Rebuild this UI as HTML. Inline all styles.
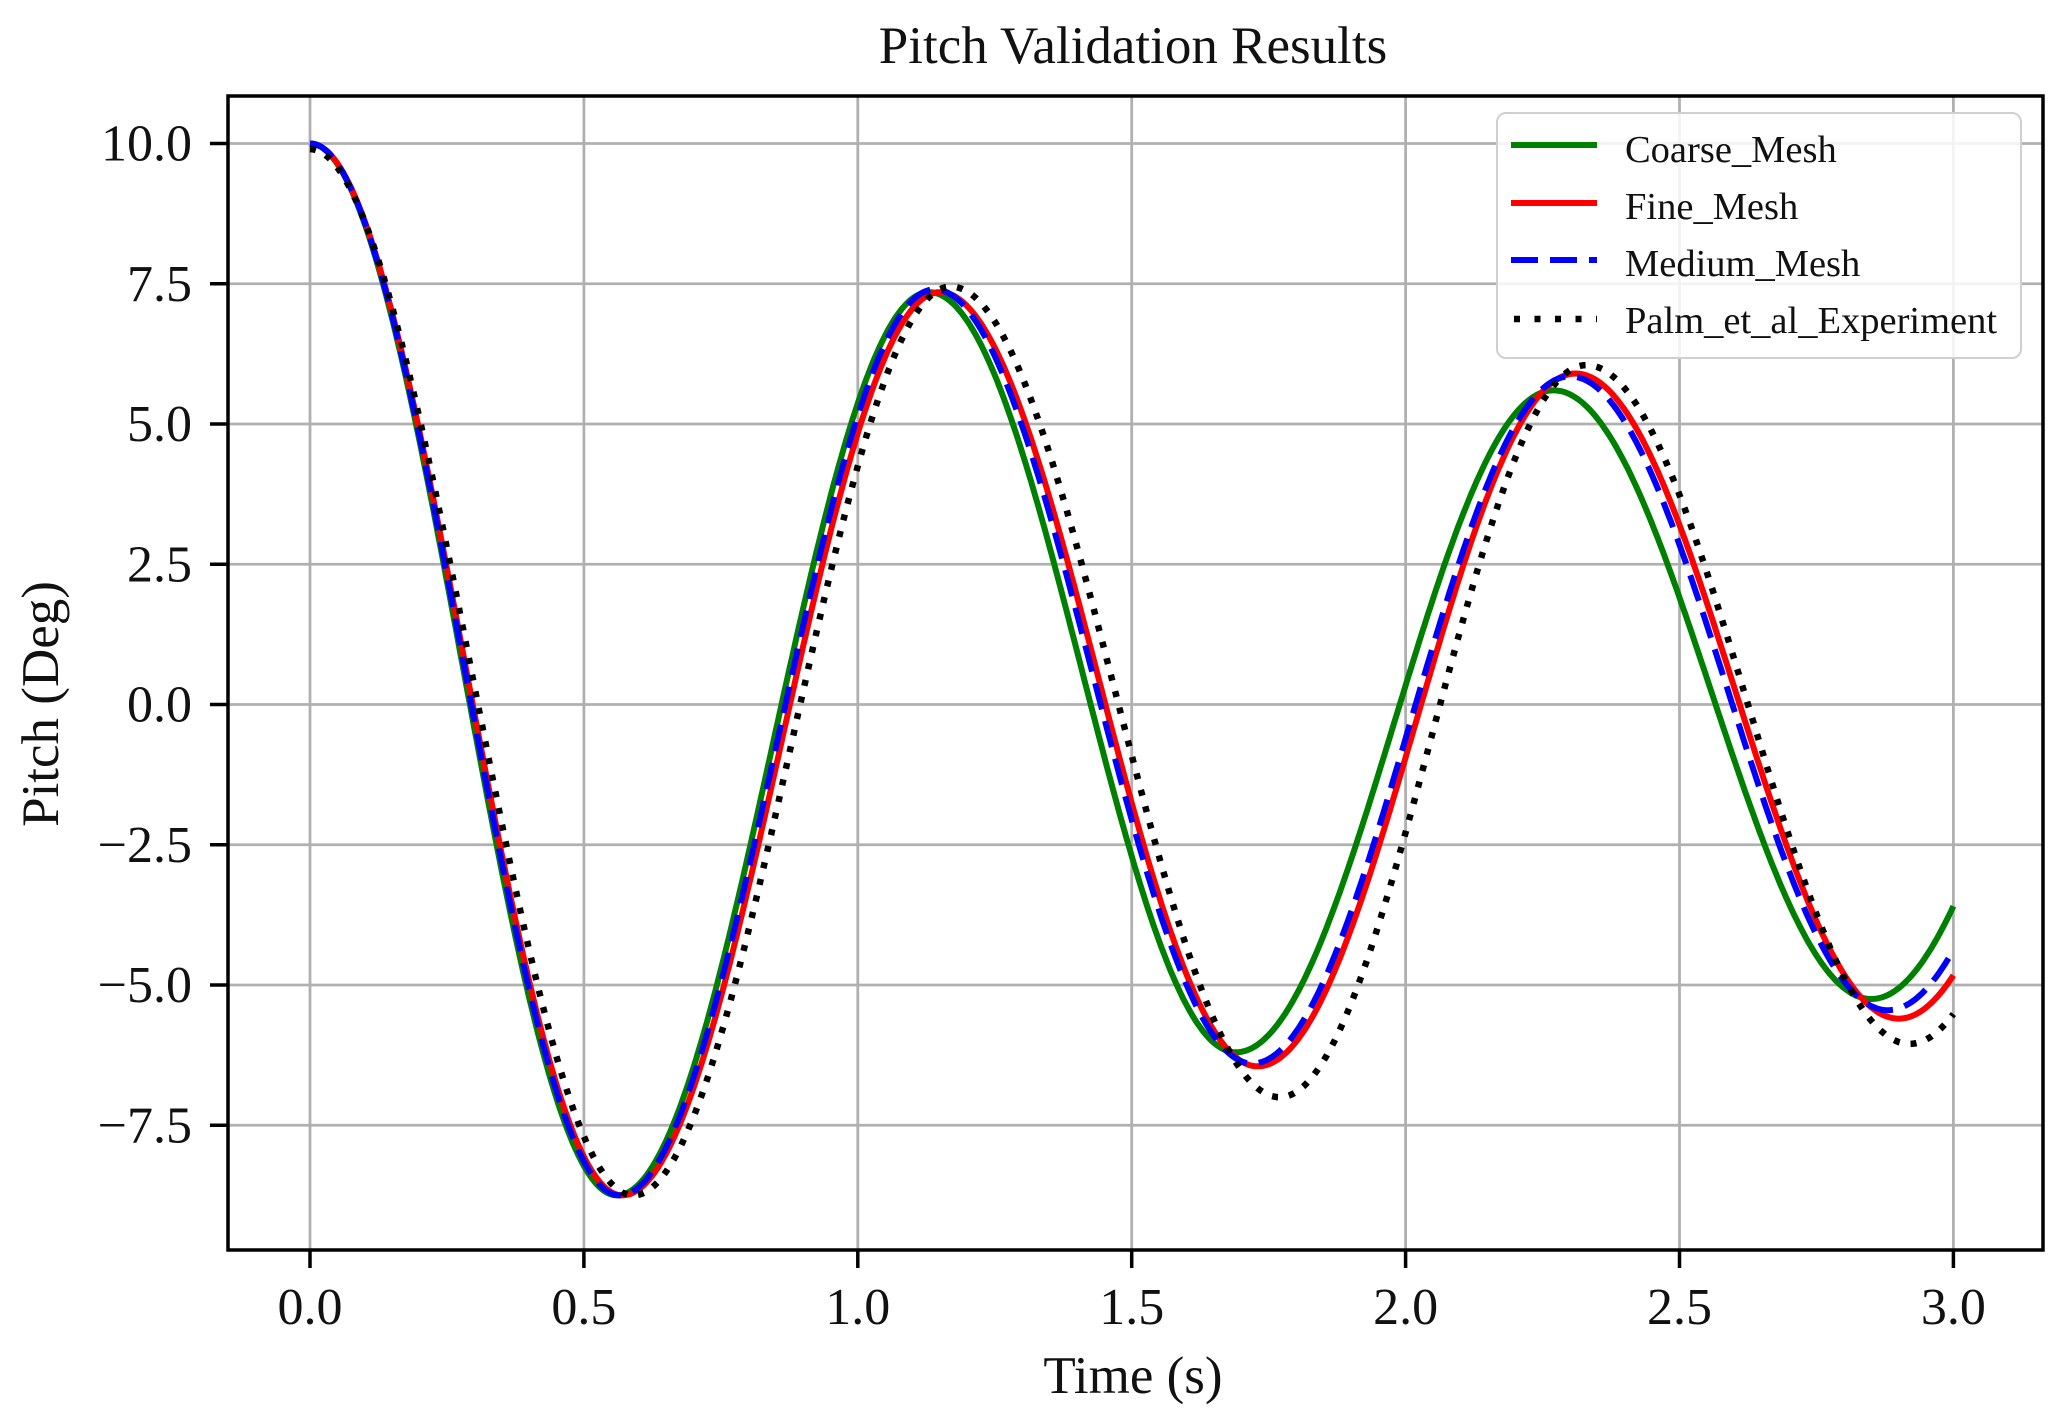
<!DOCTYPE html>
<html><head><meta charset="utf-8">
<style>html,body{margin:0;padding:0;background:#fff;}svg{display:block}</style>
</head><body>
<svg id="s" width="2066" height="1421" xmlns="http://www.w3.org/2000/svg" font-family="'Liberation Serif', serif">
<rect width="2066" height="1421" fill="#fff"/>
<g id="grid" stroke="#b0b0b0" stroke-width="2.8"></g>
<g id="curves" fill="none"></g>
<rect x="228" y="96" width="1815" height="1154" fill="none" stroke="#000" stroke-width="3.5"/>
<g id="ticks" stroke="#000" stroke-width="3.5"></g>
<g id="labels" font-size="52" fill="#111"></g>
<text x="1133" y="63" font-size="53" text-anchor="middle" fill="#111">Pitch Validation Results</text>
<text x="1133" y="1393" font-size="53" text-anchor="middle" fill="#111">Time (s)</text>
<text transform="translate(58,704) rotate(-90)" font-size="53" text-anchor="middle" fill="#111">Pitch (Deg)</text>
<g>
<rect x="1497" y="113" width="524" height="245" rx="9" fill="#fff" fill-opacity="0.85" stroke="#d0d0d0" stroke-width="2"/>
<line x1="1511" y1="145" x2="1597" y2="145" stroke="#008000" stroke-width="6"/>
<line x1="1511" y1="203" x2="1597" y2="203" stroke="#ff0000" stroke-width="6"/>
<line x1="1511" y1="260" x2="1597" y2="260" stroke="#0000ff" stroke-width="6" stroke-dasharray="27 12"/>
<line x1="1514" y1="319" x2="1597" y2="319" stroke="#000" stroke-width="6.5" stroke-dasharray="6 14.5"/>
<g font-size="38.5" fill="#111">
<text x="1625" y="162">Coarse_Mesh</text>
<text x="1625" y="219">Fine_Mesh</text>
<text x="1625" y="276">Medium_Mesh</text>
<text x="1625" y="333">Palm_et_al_Experiment</text>
</g>
</g>
</svg>
<script>
const NS="http://www.w3.org/2000/svg";
const X=t=>310+t*547.8, Y=v=>704.5-56.1*v;
const grid=document.getElementById('grid'),ticks=document.getElementById('ticks'),labels=document.getElementById('labels'),curves=document.getElementById('curves');
function el(p,tag,a,txt){const e=document.createElementNS(NS,tag);for(const k in a)e.setAttribute(k,a[k]);if(txt!==undefined)e.textContent=txt;p.appendChild(e);return e;}
for(let i=0;i<=6;i++){const t=i*0.5,x=X(t);
 el(grid,'line',{x1:x,y1:96,x2:x,y2:1250});
 el(ticks,'line',{x1:x,y1:1250,x2:x,y2:1268});
 el(labels,'text',{x:x,y:1324,'text-anchor':'middle'},t.toFixed(1));}
for(let i=-3;i<=4;i++){const v=i*2.5,y=Y(v);
 el(grid,'line',{x1:228,y1:y,x2:2043,y2:y});
 el(ticks,'line',{x1:210,y1:y,x2:228,y2:y});
 el(labels,'text',{x:192,y:y+17,'text-anchor':'end'},(v<0?'\u2212'+(-v).toFixed(1):v.toFixed(1)));}
function curve(ext,attrs){let d='';
 for(let k=0;k<=600;k++){const t=k*3/600;let i=0;while(i<ext.length-2&&t>ext[i+1][0])i++;
  const [t0,v0]=ext[i],[t1,v1]=ext[i+1];const mid=(v0+v1)/2,h=(v0-v1)/2;
  const v=mid+h*Math.cos(Math.PI*(t-t0)/(t1-t0));
  d+=(k?'L':'M')+X(t).toFixed(1)+' '+Y(v).toFixed(1);}
 attrs.d=d;el(curves,'path',attrs);}
curve([[0,10],[0.56,-8.75],[1.13,7.35],[1.69,-6.2],[2.27,5.6],[2.85,-5.25],[3.42,5]],{stroke:'#008000','stroke-width':6});
curve([[0,10],[0.57,-8.75],[1.15,7.35],[1.73,-6.45],[2.31,5.9],[2.90,-5.6],[3.48,5.2]],{stroke:'#ff0000','stroke-width':6});
curve([[0,10],[0.565,-8.75],[1.14,7.4],[1.72,-6.4],[2.30,5.85],[2.88,-5.45],[3.46,5.1]],{stroke:'#0000ff','stroke-width':6,'stroke-dasharray':'27 12'});
curve([[0,9.9],[0.59,-8.75],[1.17,7.45],[1.77,-7.0],[2.33,6.05],[2.92,-6.05],[3.5,5.5]],{stroke:'#000','stroke-width':6.5,'stroke-dasharray':'6 11'});
</script>
</body></html>
